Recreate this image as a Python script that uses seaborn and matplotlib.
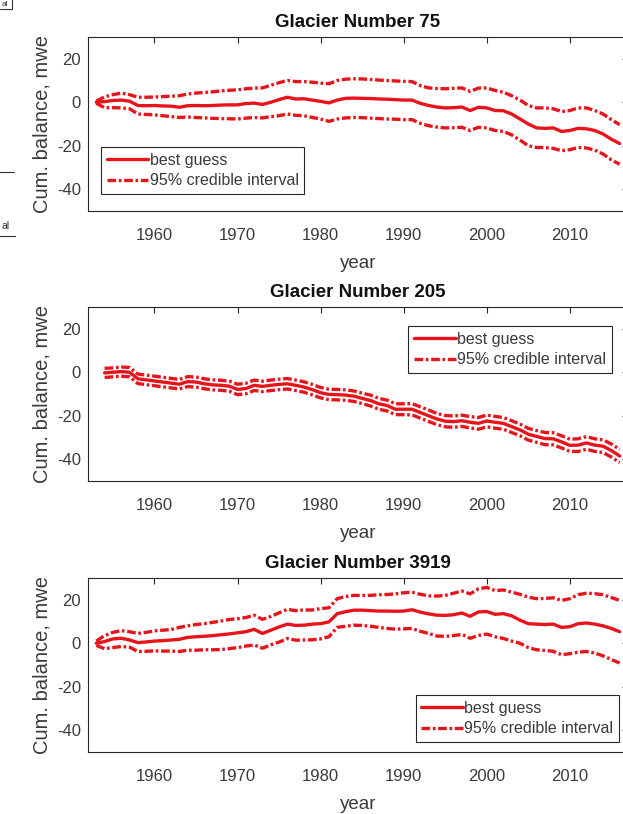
import matplotlib
matplotlib.use("Agg")
import matplotlib.pyplot as plt
from matplotlib.lines import Line2D
import seaborn as sns

# ---- data: cumulative mass balance (m w.e.) ----
years_75 = list(range(1953, 2017))
best_75 = [0.0, 0.3, 0.8, 1.0, 0.5, -1.5, -1.6, -1.5, -1.7, -1.8, -2.3, -1.6, -1.5, -1.6, -1.5, -1.3,
           -1.2, -1.2, -0.6, -0.4, -1.0, 0.0, 1.2, 2.3, 1.5, 1.6, 1.0, 0.4, -0.3, 1.0, 1.8, 1.9,
           1.8, 1.7, 1.5, 1.4, 1.2, 1.0, 1.0, -0.5, -1.5, -2.2, -2.6, -2.5, -2.2, -3.8, -2.3, -2.6,
           -3.8, -3.9, -5.4, -7.7, -10.0, -11.8, -12.0, -11.8, -13.4, -13.0, -12.0, -12.2, -13.0, -14.6, -17.0, -19.0]
upper_75 = [0.5, 2.5, 3.5, 4.2, 3.5, 2.3, 2.3, 2.4, 2.6, 2.8, 3.0, 3.8, 4.2, 4.5, 4.8, 5.2,
            5.5, 5.7, 6.2, 6.5, 6.6, 7.8, 9.0, 10.0, 9.5, 9.5, 9.2, 8.8, 8.5, 10.0, 10.6, 10.8,
            10.7, 10.5, 10.2, 10.0, 9.8, 9.6, 9.5, 7.7, 6.6, 6.3, 6.2, 6.4, 6.6, 5.0, 6.5, 6.6,
            5.4, 4.6, 3.0, 1.0, -1.5, -2.6, -2.6, -3.0, -4.3, -3.8, -2.6, -2.6, -3.8, -5.4, -8.0, -10.3]
lower_75 = [-0.5, -2.5, -2.5, -2.6, -3.0, -5.4, -5.6, -5.8, -6.2, -6.6, -7.0, -6.8, -7.0, -7.2, -7.4, -7.5,
            -7.6, -7.7, -7.3, -7.0, -7.2, -6.6, -6.2, -5.4, -6.0, -6.2, -7.0, -7.7, -8.8, -7.7, -7.2, -7.0,
            -7.1, -7.3, -7.5, -7.7, -7.8, -8.0, -8.0, -9.7, -10.8, -11.4, -11.8, -11.7, -11.5, -13.0, -11.5, -11.8,
            -13.0, -13.4, -15.0, -17.4, -20.0, -20.8, -20.8, -21.2, -22.3, -21.8, -20.8, -21.0, -22.0, -23.8, -26.5, -28.5]

years_205 = list(range(1954, 2017))
best_205 = [-0.3, 0.0, 0.3, 0.0, -3.0, -3.5, -4.0, -4.5, -5.0, -5.5, -4.3, -4.5, -5.3, -5.8, -6.0, -6.4,
            -7.9, -7.5, -6.0, -6.5, -6.0, -5.6, -5.3, -6.0, -6.8, -8.0, -9.4, -10.2, -10.3, -10.5, -11.0, -12.0,
            -13.0, -14.5, -15.3, -17.0, -17.0, -17.0, -18.5, -20.0, -21.5, -22.5, -22.7, -22.3, -23.0, -23.5, -22.4, -23.0,
            -23.5, -25.0, -26.5, -28.5, -29.5, -30.5, -30.6, -32.0, -33.6, -33.5, -32.5, -33.5, -34.0, -36.0, -38.5]
upper_205 = [1.8, 2.0, 2.4, 2.2, -0.8, -1.3, -1.8, -2.3, -2.8, -3.3, -2.0, -2.2, -3.0, -3.5, -3.7, -4.1,
             -5.5, -5.1, -3.6, -4.1, -3.6, -3.2, -2.9, -3.6, -4.4, -5.6, -7.0, -7.8, -7.9, -8.1, -8.6, -9.6,
             -10.5, -12.0, -12.8, -14.5, -14.5, -14.4, -15.9, -17.4, -18.9, -19.9, -20.1, -19.7, -20.4, -20.8, -19.7, -20.3,
             -20.8, -22.3, -23.8, -25.8, -26.8, -27.7, -27.8, -29.2, -30.8, -30.6, -29.6, -30.6, -31.1, -33.0, -35.5]
lower_205 = [-2.4, -2.1, -1.8, -2.1, -5.2, -5.7, -6.2, -6.7, -7.2, -7.7, -6.6, -6.8, -7.6, -8.1, -8.3, -8.7,
             -10.3, -9.9, -8.4, -8.9, -8.4, -8.0, -7.7, -8.4, -9.2, -10.4, -11.8, -12.6, -12.7, -12.9, -13.4, -14.4,
             -15.5, -17.0, -17.8, -19.5, -19.5, -19.6, -21.1, -22.6, -24.1, -25.1, -25.3, -24.9, -25.6, -26.2, -25.1, -25.7,
             -26.2, -27.7, -29.2, -31.2, -32.2, -33.3, -33.4, -34.8, -36.4, -36.4, -35.4, -36.4, -36.9, -39.0, -41.5]

years_3919 = list(range(1953, 2017))
best_3919 = [0.0, 0.8, 2.0, 2.3, 1.5, 0.3, 0.6, 1.0, 1.2, 1.5, 1.8, 2.7, 3.0, 3.2, 3.5, 3.9,
             4.3, 4.8, 5.3, 6.4, 4.5, 6.0, 7.5, 8.8, 8.2, 8.3, 8.8, 9.0, 9.8, 13.6, 14.5, 15.2,
             15.2, 15.0, 14.8, 14.8, 14.7, 14.8, 15.4, 14.3, 13.5, 12.9, 12.8, 13.1, 13.9, 12.4, 14.4, 14.6,
             13.3, 13.6, 12.6, 10.6, 9.0, 8.8, 8.6, 8.8, 7.3, 7.6, 9.0, 9.3, 8.8, 8.0, 6.8, 5.3]
upper_3919 = [1.0, 3.5, 5.0, 5.8, 5.3, 4.5, 5.0, 5.7, 6.0, 6.3, 7.3, 8.0, 8.6, 9.0, 9.6, 10.2,
              10.9, 11.3, 11.8, 12.9, 11.0, 12.3, 14.0, 15.6, 15.0, 15.3, 15.3, 15.9, 16.3, 20.5, 21.5, 22.0,
              22.0, 22.0, 22.3, 22.4, 22.7, 23.2, 23.5, 22.5, 21.8, 21.7, 22.0, 23.0, 24.0, 22.7, 25.0, 25.7,
              24.2, 24.5, 23.5, 22.5, 21.2, 20.5, 20.6, 20.9, 19.7, 20.5, 22.3, 23.0, 22.8, 22.3, 21.0, 19.7]
lower_3919 = [-1.0, -2.5, -2.0, -1.5, -1.8, -3.8, -3.7, -3.5, -3.6, -3.6, -3.8, -3.2, -3.2, -3.0, -3.0, -2.9,
              -2.5, -2.0, -1.3, -0.8, -2.3, -0.7, 0.5, 2.2, 1.4, 1.5, 1.6, 2.0, 3.0, 7.3, 7.8, 8.3,
              8.2, 7.8, 7.3, 6.8, 6.5, 6.6, 6.8, 5.5, 4.5, 3.3, 3.2, 3.5, 4.1, 2.3, 3.6, 4.2,
              3.0, 2.2, 1.0, 0.0, -2.0, -3.0, -3.3, -3.7, -5.3, -4.8, -4.1, -3.8, -4.5, -5.8, -7.5, -9.1]

titles = ["Glacier Number 75", "Glacier Number 205", "Glacier Number 3919"]
legend_labels = ["best guess", "95% credible interval"]
y_ticks = [-40, -20, 0, 20]
x_ticks = [1960, 1970, 1980, 1990, 2000, 2010]

# ---- style ----
sns.set_style("white")
plt.rcParams["font.family"] = ["Liberation Sans", "DejaVu Sans"]
plt.rcParams["axes.unicode_minus"] = False
plt.rcParams["axes.edgecolor"] = "#262626"
plt.rcParams["axes.linewidth"] = 0.8

RED = "#e8141c"
TXT = "#3a3a3a"
DASH = (0, (2.6, 0.8, 0.8, 0.8))

fig = plt.figure(figsize=(6.23, 8.14), dpi=100)
W, H = 623.0, 814.0

# axes boxes in pixels: left, top, right, bottom (right edge runs past the figure)
boxes = [(88, 37, 628, 211), (88, 307, 628, 481), (88, 578, 628, 752)]
legend_specs = [("lower left", (0.024, 0.098)),
                ("upper right", (0.970, 0.891)),
                ("lower right", (0.983, 0.057))]
panels = [(years_75, best_75, upper_75, lower_75),
          (years_205, best_205, upper_205, lower_205),
          (years_3919, best_3919, upper_3919, lower_3919)]

for (l, t, r, b), title, (loc, anchor), (yrs, best, up, lo) in zip(boxes, titles, legend_specs, panels):
    ax = fig.add_axes([l / W, (H - b) / H, (r - l) / W, (b - t) / H])
    sns.lineplot(x=yrs, y=best, ax=ax, color=RED, lw=2.4, label=legend_labels[0])
    sns.lineplot(x=yrs, y=up, ax=ax, color=RED, lw=2.4, linestyle=DASH, label=legend_labels[1])
    sns.lineplot(x=yrs, y=lo, ax=ax, color=RED, lw=2.4, linestyle=DASH, label="_nolegend_")

    ax.set_xlim(1952, 2017)
    ax.set_ylim(-50, 30)
    ax.set_xticks(x_ticks)
    ax.set_yticks(y_ticks)
    ax.tick_params(axis="both", direction="in", length=4.5, width=0.8, color="#262626",
                   labelsize=12, labelcolor=TXT, top=True, right=True)
    ax.tick_params(axis="x", pad=12)
    ax.tick_params(axis="y", pad=5)
    for s in ax.spines.values():
        s.set_visible(True)
        s.set_color("#262626")
        s.set_linewidth(0.8)

    ax.set_title(title, fontsize=13.5, fontweight="bold", color="#111111", pad=7)
    ax.set_xlabel("year", fontsize=13.5, color=TXT, labelpad=9)
    ax.set_ylabel("Cum. balance, mwe", fontsize=14.5, color=TXT, labelpad=4)

    leg = ax.legend(loc=loc, bbox_to_anchor=anchor, borderaxespad=0, fontsize=11.5,
                    frameon=True, fancybox=False, framealpha=1, edgecolor="#262626",
                    handlelength=2.6, handletextpad=0.1, labelspacing=0.35,
                    borderpad=0.35)
    leg.get_frame().set_linewidth(0.8)
    for txt in leg.get_texts():
        txt.set_color(TXT)

# fragments of a neighbouring figure along the left edge
def fig_line(x0, y0, x1, y1):
    fig.add_artist(Line2D([x0 / W, x1 / W], [(H - y0) / H, (H - y1) / H],
                          color="#333333", lw=0.8, transform=fig.transFigure))

fig_line(0, 9, 12, 9)
fig_line(12, 0, 12, 9)
fig.text(2 / W, (H - 5) / H, "al", fontsize=6, color="#333333", va="center", ha="left")
fig_line(0, 172, 14, 172)
fig.text(1 / W, (H - 226) / H, "al", fontsize=7.5, color="#333333", va="center", ha="left")
fig_line(0, 236, 15, 236)

fig.savefig("out.png", dpi=100)
